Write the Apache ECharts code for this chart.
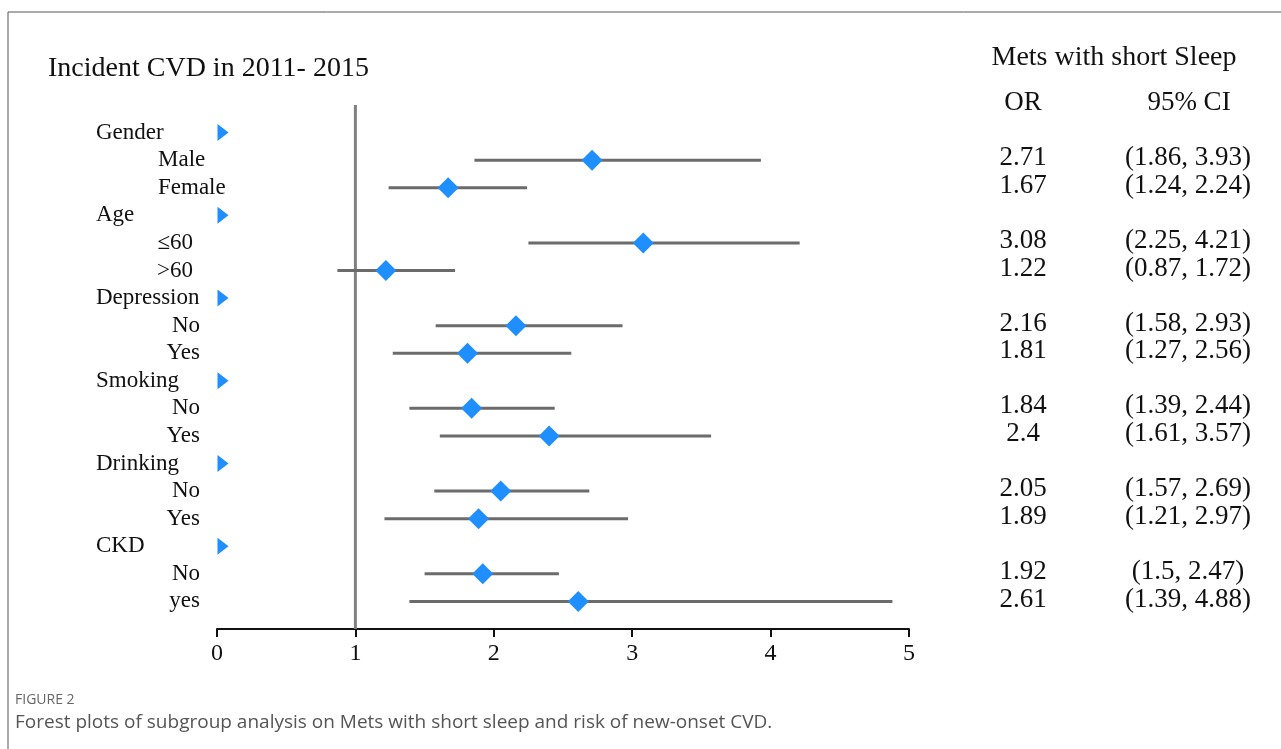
<!DOCTYPE html>
<html>
<head>
<meta charset="utf-8">
<script src="https://cdn.jsdelivr.net/npm/echarts@6/dist/echarts.min.js"></script>
<style>
html,body{margin:0;padding:0;background:#fff;}
#c{width:1281px;height:749px;}
</style>
</head>
<body>
<div id="c"></div>
<script>
// ---- data ----
const groups = ['Gender', 'Age', 'Depression', 'Smoking', 'Drinking', 'CKD'];
const subgroups = [['Male', 'Female'], ['≤60', '>60'], ['No', 'Yes'], ['No', 'Yes'], ['No', 'Yes'], ['No', 'yes']];
const orValues = [2.71, 1.67, 3.08, 1.22, 2.16, 1.81, 1.84, 2.4, 2.05, 1.89, 1.92, 2.61];
const ciLow   = [1.86, 1.24, 2.25, 0.87, 1.58, 1.27, 1.39, 1.61, 1.57, 1.21, 1.5, 1.39];
const ciHigh  = [3.93, 2.24, 4.21, 1.72, 2.93, 2.56, 2.44, 3.57, 2.69, 2.97, 2.47, 4.88];
const xTicks = [0, 1, 2, 3, 4, 5];
const refValue = 1;

// ---- build rows ----
const rowLabels = [], rowKind = [], rowGroup = [], rowOr = [];
const headerRows = [];
let k = 0;
groups.forEach((g, gi) => {
  headerRows.push(rowLabels.length);
  rowLabels.push(g); rowKind.push('h'); rowGroup.push(gi); rowOr.push(null);
  subgroups[gi].forEach(s => {
    rowLabels.push(s); rowKind.push('s'); rowGroup.push(gi); rowOr.push(k); k++;
  });
});
const nRows = rowLabels.length;

const ciData = [], orData = [];
rowOr.forEach((idx, r) => {
  if (idx !== null) {
    ciData.push([ciLow[idx], ciHigh[idx], r]);
    orData.push([orValues[idx], r]);
  }
});
const triData = headerRows.map(r => [xTicks[0], r]);

const serif = '"Liberation Serif", "Times New Roman", serif';
const BLUE = '#1f8fff';

function leftFmt(v) {
  const label = rowLabels[v];
  if (label === undefined) return '';
  if (rowKind[v] === 'h') return '{h|' + label + '}';
  const g = rowGroup[v];
  if (g === 0) return '{g|' + label + '}';
  if (g === 1) return '{a|' + label + '}';
  return '{s|' + label + '}';
}
function rightFmt(v) {
  const idx = rowOr[v];
  if (idx === undefined || idx === null) return '';
  return '{o|' + orValues[idx] + '}{c|(' + ciLow[idx] + ', ' + ciHigh[idx] + ')}';
}

const chart = echarts.init(document.getElementById('c'));
const labelBase = { fontFamily: serif, fontSize: 23, color: '#111' };
const rightBase = { fontFamily: serif, fontSize: 27, color: '#111', padding: [0, 0, 4, 0] };

chart.setOption({
  animation: false,
  backgroundColor: '#fff',
  grid: { left: 217, right: 372, top: 105, height: 524 },
  xAxis: {
    type: 'value', min: 0, max: 5, interval: 1,
    axisLine: { show: true, onZero: false, lineStyle: { color: '#111', width: 2 } },
    axisTick: { show: true, length: 8, lineStyle: { color: '#111', width: 2 } },
    axisLabel: { fontFamily: serif, fontSize: 24, color: '#111', margin: 13 },
    splitLine: { show: false }
  },
  yAxis: [{
    type: 'value', inverse: true, min: -1, max: nRows, interval: 1,
    axisLine: { show: false }, axisTick: { show: false }, splitLine: { show: false },
    axisLabel: {
      align: 'left', margin: 121, formatter: leftFmt,
      rich: {
        h: Object.assign({}, labelBase),
        g: Object.assign({ padding: [0, 0, 0, 62] }, labelBase),
        a: Object.assign({ width: 97, align: 'right' }, labelBase),
        s: Object.assign({ width: 104, align: 'right' }, labelBase)
      }
    }
  }, {
    type: 'value', inverse: true, min: -1, max: nRows, interval: 1, position: 'right',
    axisLine: { show: false }, axisTick: { show: false }, splitLine: { show: false },
    axisLabel: {
      align: 'left', margin: 64, formatter: rightFmt,
      rich: {
        o: Object.assign({ width: 100, align: 'center' }, rightBase),
        c: Object.assign({ width: 230, align: 'center' }, rightBase)
      }
    }
  }],
  series: [
    {
      type: 'line', data: [[refValue, -1], [refValue, nRows]],
      symbol: 'none', lineStyle: { color: '#808080', width: 3 }, z: 1
    },
    {
      type: 'custom', data: ciData, z: 2,
      encode: { x: [0, 1], y: 2 },
      renderItem: function (params, api) {
        const p1 = api.coord([api.value(0), api.value(2)]);
        const p2 = api.coord([api.value(1), api.value(2)]);
        return {
          type: 'line',
          shape: { x1: p1[0], y1: p1[1], x2: p2[0], y2: p2[1] },
          style: { stroke: '#6b6b6b', lineWidth: 3 }
        };
      }
    },
    {
      type: 'scatter', data: orData, symbol: 'diamond', symbolSize: [21, 21],
      itemStyle: { color: BLUE, opacity: 1 }, z: 3
    },
    {
      type: 'scatter', data: triData, symbol: 'path://M0,0L10,8L0,16Z',
      symbolSize: [11, 17], symbolOffset: [6, 0],
      itemStyle: { color: BLUE, opacity: 1 }, z: 3
    }
  ],
  graphic: [
    { type: 'rect', shape: { x: 8, y: 12, width: 1300, height: 800 },
      style: { fill: 'none', stroke: '#555', lineWidth: 1 }, silent: true },
    { type: 'text', x: 48, y: 69, style: { text: 'Incident CVD in 2011- 2015', font: '28px ' + serif,
      fill: '#111', textAlign: 'left', textVerticalAlign: 'middle' } },
    { type: 'text', x: 1114, y: 58, style: { text: 'Mets with short Sleep', font: '28px ' + serif,
      fill: '#111', textAlign: 'center', textVerticalAlign: 'middle' } },
    { type: 'text', x: 1023, y: 103, style: { text: 'OR', font: '27px ' + serif,
      fill: '#111', textAlign: 'center', textVerticalAlign: 'middle' } },
    { type: 'text', x: 1189, y: 103, style: { text: '95% CI', font: '27px ' + serif,
      fill: '#111', textAlign: 'center', textVerticalAlign: 'middle' } },
    { type: 'text', x: 15, y: 700, style: { text: 'FIGURE 2', font: '14px "Open Sans", sans-serif',
      fill: '#666', textAlign: 'left', textVerticalAlign: 'middle' } },
    { type: 'text', x: 15, y: 723, style: { text: 'Forest plots of subgroup analysis on Mets with short sleep and risk of new-onset CVD.',
      font: '19px "Open Sans", sans-serif', fill: '#555', textAlign: 'left', textVerticalAlign: 'middle' } }
  ]
});
</script>
</body>
</html>
